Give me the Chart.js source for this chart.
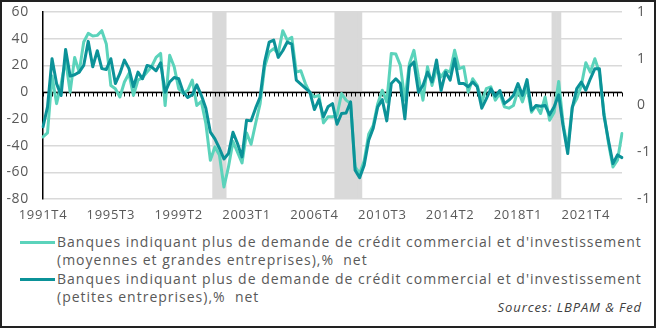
<!DOCTYPE html>
<html>
<head>
<meta charset="utf-8">
<script src="https://cdn.jsdelivr.net/npm/chart.js@4.4.1/dist/chart.umd.min.js"></script>
<style>
  html, body { margin: 0; padding: 0; background: #fff; }
  #frame {
    position: relative; width: 656px; height: 328px; box-sizing: border-box;
    border: 2px solid #222; overflow: hidden; background: #fff;
    font-family: 'Open Sans', sans-serif; color: #595959;
  }
  #plot { position: absolute; left: 0; top: 0; width: 652px; height: 226px; }
  .key { position: absolute; left: 18px; width: 35px; height: 3px; }
  .txt { position: absolute; left: 55px; font-size: 14px; line-height: 18px; white-space: pre; letter-spacing: 1px; }
  #src { position: absolute; right: 12px; top: 296px; font-size: 13px; font-style: italic; color: #404040; white-space: pre; letter-spacing: 0.9px; }
</style>
</head>
<body>
<div id="frame">
  <div id="plot"><canvas id="c"></canvas></div>
  <div class="key" id="key1" style="top:239px"></div>
  <div class="txt" id="txt1" style="top:231px"></div>
  <div class="key" id="key2" style="top:276px"></div>
  <div class="txt" id="txt2" style="top:268px"></div>
  <div id="src">Sources: LBPAM &amp; Fed</div>
</div>
<script>
// Quarterly range of the survey
const firstYear = 1991, firstQuarter = 4;
const lastYear = 2023, lastQuarter = 4;

// Labels shown on the horizontal axis
const tickQuarters = ['1991T4', '1995T3', '1999T2', '2003T1', '2006T4', '2010T3', '2014T2', '2018T1', '2021T4'];

// Recession quarters (shaded)
const recessionQuarters = ['2001T2', '2001T3', '2001T4',
  '2008T1', '2008T2', '2008T3', '2008T4', '2009T1', '2009T2',
  '2020T1', '2020T2'];

// Net % of banks reporting stronger C&I loan demand — medium and large firms
const largeFirms = [
  -33.5, -30.5, 12, -8.6, 6, 24, 0, 26, 15, 37.5,
  44, 42, 42.5, 46, 36, 5, 2.6, -3.6, 7.6, 14,
  -2.4, 9, 11, 15, 19, 26, 29, -10, 27.6, 19,
  2.6, -1, 1.4, 9, -10, -7, -23.5, -51, -41, -47,
  -71, -56, -37, -45, -53, -30.5, -39, -23.5, -8.6, 19,
  30, 32.6, 29, 46, 39, 41, 15, 16, 6.4, -0.5,
  -3.6, -2.4, -23, -18.5, -18.5, -17.3, -1, -6, -8.6, -56,
  -61, -51.5, -31.5, -25, -8.6, 1.4, -7.3, 29, 28.5, 20,
  -6, 21.3, 31.3, 11.4, -6, 19, 5, 17.6, 11.4, 16.4,
  15, 31.3, 17.6, 19, 0, 10, 5, -7.3, 2.6, 4,
  -6, -1, -11, -12, -10, 1.2, -7.3, 4, -15, -10,
  -16, -3.6, -21, -15, 8, -24, -42, -11, -5, 5,
  22, 15, 25, 15, -15, -38, -56, -51, -31
];

// Net % of banks reporting stronger C&I loan demand — small firms
const smallFirms = [
  -26, -11, 25, 6.4, -2.5, 32, 12, 13, 15, 20,
  38, 19, 31, 17.6, 17, 25, 6.4, 14, 24, 17.6,
  4, 15, 10, 20, 19, 16, 22, 0, 7.6, 11,
  10, 0, -4, -2, 5.5, -2.4, -12, -30, -35, -42,
  -50, -46, -30, -38.5, -48.5, -21, -21.5, -12, -3.6, 22.6,
  37.5, 39, 26, 31, 37.5, 36, 9, 6, 3, 0,
  -13, -5.6, -18.5, -11, -8.6, -24, -16, -15.6, -7.3, -58.5,
  -64, -54.7, -36, -27, -11, -5.6, -21.5, 6.4, 10, 6.4,
  -20, 19, 22.6, 0, 5, 15, 7.6, 24, 1.2, 15,
  9, 25, 6.4, 6.4, 4, 7.6, 4, -12, -5, 2.5,
  -3, 1.2, -8.6, -6, -2.4, 6.4, -2.4, 9.4, -13.6, -10,
  -10.6, -10, -17, -11, -2, -26, -46, -12, 2.6, 7.6,
  1.4, 10, 17.6, 17.6, -17.3, -36, -53.5, -47, -49
];

const largeLabel = "Banques indiquant plus de demande de crédit commercial et d'investissement\n(moyennes et grandes entreprises),%  net";
const smallLabel = "Banques indiquant plus de demande de crédit commercial et d'investissement\n(petites entreprises),%  net";

const LIGHT = '#5bd3bb';
const DARK = '#0b9298';
const GREY_TEXT = '#595959';
const FONT = "'Open Sans', sans-serif";

// Category labels, e.g. 1991T4
const quarters = [];
for (let y = firstYear, q = firstQuarter; y < lastYear || (y === lastYear && q <= lastQuarter); ) {
  quarters.push(y + 'T' + q);
  q++; if (q > 4) { q = 1; y++; }
}

// Shaded bands spanning the full value range
const Y_MIN = -80, Y_MAX = 60;
const bands = quarters.map(q => recessionQuarters.includes(q) ? [Y_MIN, Y_MAX] : null);

// Slightly wider lettering for the axis labels
const wideText = {
  id: 'wideText',
  beforeDraw(chart) { chart.ctx.letterSpacing = '0.7px'; }
};

// Black zero axis with a small tick under each quarter
const zeroAxis = {
  id: 'zeroAxis',
  afterDatasetDraw(chart, args) {
    if (chart.data.datasets[args.index].type !== 'bar') return;
    const { ctx, chartArea: a, scales: { x, y } } = chart;
    const y0 = Math.round(y.getPixelForValue(0)) + 0.5;
    ctx.save();
    ctx.strokeStyle = '#000';
    ctx.lineWidth = 1.5;
    ctx.beginPath(); ctx.moveTo(a.left, y0); ctx.lineTo(a.right, y0); ctx.stroke();
    ctx.lineWidth = 1;
    ctx.beginPath();
    for (let i = 0; i < chart.data.labels.length; i++) {
      const px = Math.round(x.getPixelForValue(i)) + 0.5;
      ctx.moveTo(px, y0); ctx.lineTo(px, y0 + 4);
    }
    ctx.stroke();
    ctx.restore();
  }
};

// Fixed axis boxes so the plot area sits where intended
const fitY = width => s => { s.width = width; s.paddingTop = 0; s.paddingBottom = 0; };

new Chart(document.getElementById('c'), {
  type: 'line',
  data: {
    labels: quarters,
    datasets: [
      { label: smallLabel, data: smallFirms, yAxisID: 'y', borderColor: DARK, backgroundColor: DARK,
        borderWidth: 3, pointRadius: 0, tension: 0, order: 1, borderJoinStyle: 'round', borderCapStyle: 'round' },
      { label: largeLabel, data: largeFirms, yAxisID: 'y', borderColor: LIGHT, backgroundColor: LIGHT,
        borderWidth: 3, pointRadius: 0, tension: 0, order: 2, borderJoinStyle: 'round', borderCapStyle: 'round' },
      { type: 'bar', label: 'Récession', data: bands, yAxisID: 'y', backgroundColor: '#d9d9d9',
        barPercentage: 1, categoryPercentage: 1, borderWidth: 0, order: 3 }
    ]
  },
  options: {
    responsive: true, maintainAspectRatio: false, animation: false,
    layout: { padding: { top: 10, right: 0, bottom: 0, left: 0 } },
    plugins: { legend: { display: false }, tooltip: { enabled: false } },
    scales: {
      x: {
        type: 'category', offset: false,
        grid: { display: false, drawTicks: false }, border: { display: false },
        ticks: {
          autoSkip: false, maxRotation: 0, minRotation: 0, padding: 8,
          color: GREY_TEXT, font: { family: FONT, size: 13 },
          callback: (v, i) => tickQuarters.includes(quarters[i]) ? quarters[i] : ''
        },
        afterFit: s => { s.height = 29; }
      },
      y: {
        position: 'left', min: Y_MIN, max: Y_MAX,
        ticks: { stepSize: 20, padding: 14, color: GREY_TEXT, font: { family: FONT, size: 14 } },
        grid: { color: '#d9d9d9', lineWidth: 1.5, drawTicks: false },
        border: { display: true, color: '#000', width: 1.5 },
        afterFit: fitY(41)
      },
      y2: {
        position: 'right', min: -1.2, max: 1.2,
        ticks: { stepSize: 0.6, padding: 15, color: GREY_TEXT, font: { family: FONT, size: 14 },
          callback: v => String(Math.round(v) || 0) },
        grid: { display: false, drawTicks: false }, border: { display: false },
        afterFit: fitY(32)
      }
    }
  },
  plugins: [wideText, zeroAxis]
});

// Legend below the plot
document.getElementById('key1').style.background = LIGHT;
document.getElementById('key2').style.background = DARK;
document.getElementById('txt1').textContent = largeLabel;
document.getElementById('txt2').textContent = smallLabel;
</script>
</body>
</html>
